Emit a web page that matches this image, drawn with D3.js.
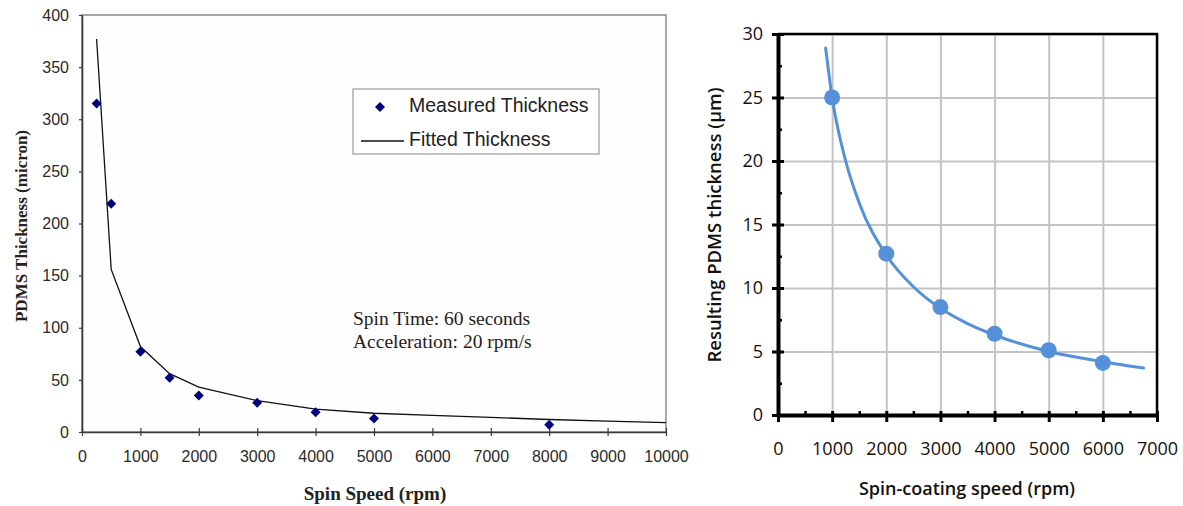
<!DOCTYPE html>
<html>
<head>
<meta charset="utf-8">
<script src="https://cdn.jsdelivr.net/npm/d3@7"></script>
<style>
  body { margin: 0; background: #fff; }
  svg { display: block; }
</style>
</head>
<body>
<div id="my_dataviz"></div>
<script>
// ---------- data: left chart (measured + fitted) ----------
var measuredSpeed = [250, 500, 1000, 1500, 2000, 3000, 4000, 5000, 8000];
var measuredThick = [315, 219, 77, 52, 35, 28, 19, 13, 7];
var fittedSpeed = [250, 500, 1000, 1500, 2000, 3000, 4000, 5000, 6000, 7000, 8000, 9000, 10000];
var fittedThick = [377, 156, 82, 56, 43, 30, 22, 18, 16, 14, 12, 10.5, 9];
var leftXTicks = [0, 1000, 2000, 3000, 4000, 5000, 6000, 7000, 8000, 9000, 10000];
var leftYTicks = [0, 50, 100, 150, 200, 250, 300, 350, 400];

// ---------- data: right chart ----------
var coatSpeed = [1000, 2000, 3000, 4000, 5000, 6000];
var coatThick = [25, 12.7, 8.5, 6.4, 5.1, 4.1];
var curveSpeed = [880, 1000, 1250, 1500, 2000, 2500, 3000, 3500, 4000, 5000, 6000, 6750];
var curveThick = [28.9, 25, 20, 16.7, 12.6, 10.1, 8.4, 7.2, 6.3, 5.0, 4.2, 3.7];
var rightXTicks = [0, 1000, 2000, 3000, 4000, 5000, 6000, 7000];
var rightYTicks = [0, 5, 10, 15, 20, 25, 30];

var fmt = d3.format("d");

var svg = d3.select("#my_dataviz")
  .append("svg")
    .attr("width", 1183)
    .attr("height", 506);

/*********************
 * LEFT CHART
 *********************/
var lx = d3.scaleLinear().domain([0, 10000]).range([82, 666]);
var ly = d3.scaleLinear().domain([0, 400]).range([432, 15]);
var left = svg.append("g");

// frame
left.append("rect")
    .attr("x", lx(0)).attr("y", ly(400))
    .attr("width", lx(10000) - lx(0)).attr("height", ly(0) - ly(400))
    .style("fill", "#fefefe")
    .style("stroke", "#8a8a8a")
    .style("stroke-width", 1.5);

// x axis
var lxAxis = left.append("g")
    .attr("transform", "translate(0," + ly(0) + ")")
    .call(d3.axisBottom(lx).tickValues(leftXTicks).tickFormat(fmt).tickSize(4).tickSizeOuter(0).tickPadding(15));
lxAxis.selectAll(".tick line").attr("y1", -4).attr("y2", 4);
// y axis
var lyAxis = left.append("g")
    .attr("transform", "translate(" + lx(0) + ",0)")
    .call(d3.axisLeft(ly).tickValues(leftYTicks).tickFormat(fmt).tickSize(3).tickSizeOuter(0).tickPadding(10));
left.selectAll(".domain").style("stroke", "#3a3a3a").style("stroke-width", 1.6);
left.selectAll(".tick line").style("stroke", "#3a3a3a").style("stroke-width", 1.2);
left.selectAll(".tick text")
    .style("font-family", "'Liberation Sans', Arial, sans-serif")
    .style("font-size", "16px")
    .style("fill", "#2a2a2a");

// fitted line
var fitted = fittedSpeed.map(function (d, i) { return [d, fittedThick[i]]; });
left.append("path")
    .datum(fitted)
    .attr("d", d3.line().x(function (d) { return lx(d[0]); }).y(function (d) { return ly(d[1]); }))
    .style("fill", "none")
    .style("stroke", "#111")
    .style("stroke-width", 1.3);

// measured diamonds
var diamond = d3.symbol().type(d3.symbolSquare).size(50);
left.selectAll("measuredPts")
  .data(measuredSpeed)
  .enter()
  .append("path")
    .attr("d", diamond)
    .attr("transform", function (d, i) { return "translate(" + lx(d) + "," + ly(measuredThick[i]) + ") rotate(45)"; })
    .style("fill", "#00007f");

// legend
left.append("rect")
    .attr("x", 353).attr("y", 89).attr("width", 246).attr("height", 65)
    .style("fill", "#fff").style("stroke", "#999").style("stroke-width", 1.2);
left.append("path")
    .attr("d", diamond)
    .attr("transform", "translate(380,107) rotate(45)")
    .style("fill", "#00007f");
left.append("line")
    .attr("x1", 361).attr("x2", 404).attr("y1", 141).attr("y2", 141)
    .style("stroke", "#111").style("stroke-width", 1.3);
left.selectAll("legendText")
  .data(["Measured Thickness", "Fitted Thickness"])
  .enter()
  .append("text")
    .attr("x", 409)
    .attr("y", function (d, i) { return 105 + i * 34; })
    .attr("dy", "0.35em")
    .style("font-family", "'Liberation Sans', Arial, sans-serif")
    .style("font-size", "19.5px")
    .style("fill", "#222")
    .text(function (d) { return d; });

// annotation
left.selectAll("noteText")
  .data(["Spin Time: 60 seconds", "Acceleration: 20 rpm/s"])
  .enter()
  .append("text")
    .attr("x", 353)
    .attr("y", function (d, i) { return 318 + i * 23; })
    .attr("dy", "0.35em")
    .style("font-family", "'Liberation Serif', 'Times New Roman', serif")
    .style("font-size", "19.5px")
    .style("fill", "#222")
    .text(function (d) { return d; });

// axis titles
left.append("text")
    .attr("x", 375).attr("y", 493).attr("dy", "0.35em")
    .style("text-anchor", "middle")
    .style("font-family", "'Liberation Serif', 'Times New Roman', serif")
    .style("font-weight", "bold")
    .style("font-size", "19px")
    .style("fill", "#222")
    .text("Spin Speed (rpm)");
left.append("text")
    .attr("transform", "translate(21,226) rotate(-90)")
    .attr("dy", "0.35em")
    .style("text-anchor", "middle")
    .style("font-family", "'Liberation Serif', 'Times New Roman', serif")
    .style("font-weight", "bold")
    .style("font-size", "17px")
    .style("fill", "#222")
    .text("PDMS Thickness (micron)");

/*********************
 * RIGHT CHART
 *********************/
var rx = d3.scaleLinear().domain([0, 7000]).range([778, 1157]);
var ry = d3.scaleLinear().domain([0, 30]).range([415, 34]);
var right = svg.append("g");

// gridlines
right.append("g")
    .attr("transform", "translate(0," + ry(0) + ")")
    .call(d3.axisBottom(rx).tickValues(rightXTicks).tickSize(-(ry(0) - ry(30))).tickFormat(""))
    .call(function (g) { g.select(".domain").remove(); })
    .selectAll("line").style("stroke", "#c4c4c4").style("stroke-width", 2);
right.append("g")
    .attr("transform", "translate(" + rx(0) + ",0)")
    .call(d3.axisLeft(ry).tickValues(rightYTicks).tickSize(-(rx(7000) - rx(0))).tickFormat(""))
    .call(function (g) { g.select(".domain").remove(); })
    .selectAll("line").style("stroke", "#c4c4c4").style("stroke-width", 2);

// top/right border
right.append("path")
    .attr("d", "M" + rx(0) + "," + ry(30) + "H" + rx(7000) + "V" + ry(0))
    .style("fill", "none").style("stroke", "#000").style("stroke-width", 2.5);

// minor ticks
right.append("g")
    .attr("transform", "translate(0," + ry(0) + ")")
    .call(d3.axisTop(rx).tickValues([500, 1500, 2500, 3500, 4500, 5500, 6500]).tickSize(4).tickFormat(""))
    .call(function (g) { g.select(".domain").remove(); })
    .selectAll("line").style("stroke", "#000").style("stroke-width", 2.5);
right.append("g")
    .attr("transform", "translate(" + rx(0) + ",0)")
    .call(d3.axisRight(ry).tickValues([2.5, 7.5, 12.5, 17.5, 22.5, 27.5]).tickSize(4).tickFormat(""))
    .call(function (g) { g.select(".domain").remove(); })
    .selectAll("line").style("stroke", "#000").style("stroke-width", 2.5);

// axes
var rxAxis = right.append("g")
    .attr("transform", "translate(0," + ry(0) + ")")
    .call(d3.axisBottom(rx).tickValues(rightXTicks).tickFormat(fmt).tickSize(7).tickSizeOuter(0).tickPadding(20));
rxAxis.selectAll(".tick line").attr("y1", -4).attr("y2", 7);
var ryAxis = right.append("g")
    .attr("transform", "translate(" + rx(0) + ",0)")
    .call(d3.axisLeft(ry).tickValues(rightYTicks).tickFormat(fmt).tickSize(6).tickSizeOuter(0).tickPadding(9));
ryAxis.selectAll(".tick line").attr("x1", 6).attr("x2", -6);
right.selectAll(".domain").style("stroke", "#000").style("stroke-width", 4);
rxAxis.selectAll(".tick line").style("stroke", "#000").style("stroke-width", 3);
ryAxis.selectAll(".tick line").style("stroke", "#000").style("stroke-width", 3);
right.selectAll(".tick text")
    .style("font-family", "'Open Sans', sans-serif")
    .style("font-size", "18px")
    .style("fill", "#111");

// curve
var curvePts = curveSpeed.map(function (d, i) { return [d, curveThick[i]]; });
right.append("path")
    .datum(curvePts)
    .attr("d", d3.line().curve(d3.curveMonotoneX).x(function (d) { return rx(d[0]); }).y(function (d) { return ry(d[1]); }))
    .style("fill", "none")
    .style("stroke", "#5590d8")
    .style("stroke-width", 3)
    .style("stroke-linecap", "round");

// points
right.selectAll("coatPts")
  .data(coatSpeed)
  .enter()
  .append("circle")
    .attr("cx", function (d) { return rx(d); })
    .attr("cy", function (d, i) { return ry(coatThick[i]); })
    .attr("r", 8)
    .style("fill", "#5590d8");

// titles
right.append("text")
    .attr("x", 967).attr("y", 489).attr("dy", "0.35em")
    .style("text-anchor", "middle")
    .style("font-family", "'Open Sans', sans-serif")
    .style("font-weight", "600")
    .style("font-size", "18px")
    .style("fill", "#111")
    .text("Spin-coating speed (rpm)");
right.append("text")
    .attr("transform", "translate(715,225) rotate(-90)")
    .attr("dy", "0.35em")
    .style("text-anchor", "middle")
    .style("font-family", "'Open Sans', sans-serif")
    .style("font-weight", "600")
    .style("font-size", "18.5px")
    .style("fill", "#111")
    .text("Resulting PDMS thickness (µm)");
</script>
</body>
</html>
